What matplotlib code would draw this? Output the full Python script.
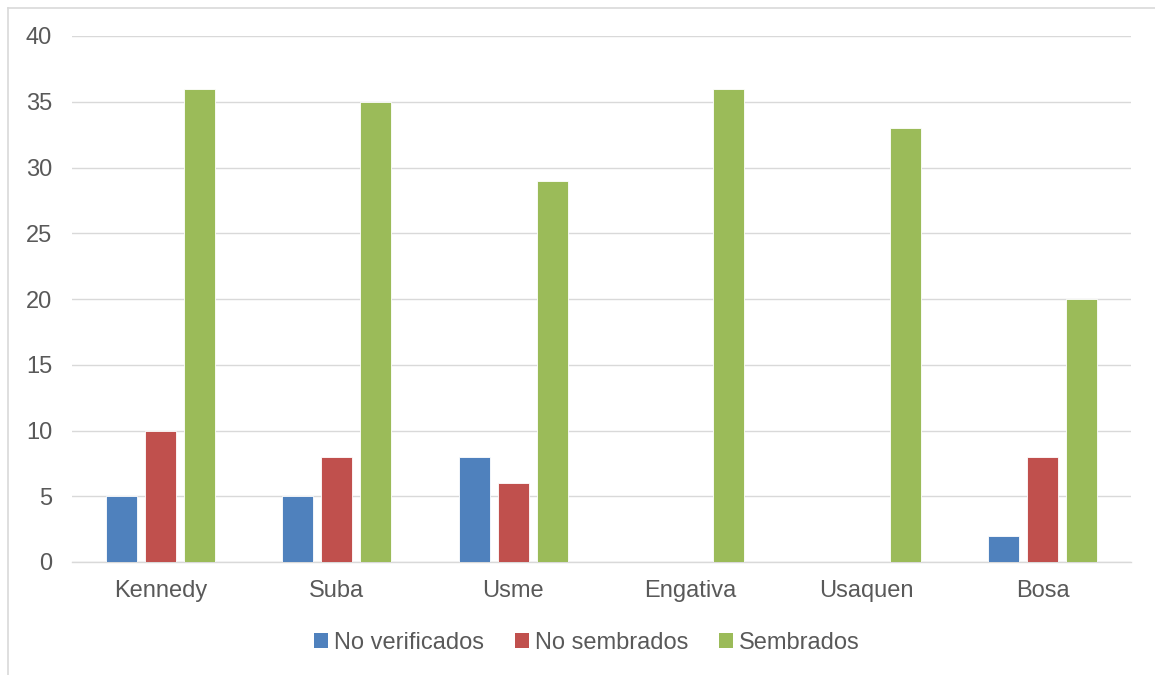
import matplotlib
matplotlib.use("Agg")
import matplotlib.pyplot as plt
from matplotlib.patches import Patch
from matplotlib.lines import Line2D
import numpy as np

plt.rcParams['font.family'] = ['Liberation Sans', 'DejaVu Sans']

categories = ["Kennedy", "Suba", "Usme", "Engativa", "Usaquen", "Bosa"]
series_names = ["No verificados", "No sembrados", "Sembrados"]
no_verificados = [5, 5, 8, 0, 0, 2]
no_sembrados = [10, 8, 6, 0, 0, 8]
sembrados = [36, 35, 29, 36, 33, 20]
y_ticks = [0, 5, 10, 15, 20, 25, 30, 35, 40]

colors = ["#4f81bd", "#c0504d", "#9bbb59"]
text_color = "#595959"
grid_color = "#d9d9d9"

W, H = 1155, 675
fig = plt.figure(figsize=(W / 100, H / 100), dpi=100)
ax = fig.add_axes([72 / W, 1 - 562 / H, (1131 - 72) / W, (562 - 36) / H])

x = np.arange(len(categories))
offsets = [-0.221, 0.0, 0.221]
width = 0.176
for vals, off, col, name in zip([no_verificados, no_sembrados, sembrados], offsets, colors, series_names):
    ax.bar(x + off, vals, width=width, color=col, edgecolor="white", linewidth=0.6, label=name, zorder=3)

ax.set_xlim(-0.5, len(categories) - 0.5)
ax.set_ylim(0, 40)
ax.set_yticks(y_ticks)
ax.set_yticklabels([str(v) for v in y_ticks])
ax.set_xticks(x)
ax.set_xticklabels(categories)
ax.tick_params(axis="both", length=0, labelsize=17, colors=text_color)
ax.tick_params(axis="y", pad=14.4)
ax.tick_params(axis="x", pad=13)
ax.grid(axis="y", color=grid_color, linewidth=1.0, zorder=0)
ax.set_axisbelow(True)
for s in ["top", "right", "left"]:
    ax.spines[s].set_visible(False)
ax.spines["bottom"].set_color(grid_color)
ax.spines["bottom"].set_linewidth(1.0)

handles = [Patch(facecolor=c, edgecolor="none") for c in colors]
fig.legend(handles, series_names, loc="center", bbox_to_anchor=(587 / W, 1 - 643 / H),
           ncol=3, frameon=False, fontsize=17, labelcolor=text_color,
           handlelength=0.6, handleheight=0.6, handletextpad=0.25, columnspacing=1.3,
           borderpad=0, borderaxespad=0)

# outer chart border (top and left visible)
fig.add_artist(Line2D([7.5 / W, 1.0], [1 - 7.5 / H, 1 - 7.5 / H], transform=fig.transFigure,
                      color=grid_color, linewidth=1.2))
fig.add_artist(Line2D([7.5 / W, 7.5 / W], [0.0, 1 - 7.5 / H], transform=fig.transFigure,
                      color=grid_color, linewidth=1.2))

fig.savefig("out.png", dpi=100, facecolor="white")
